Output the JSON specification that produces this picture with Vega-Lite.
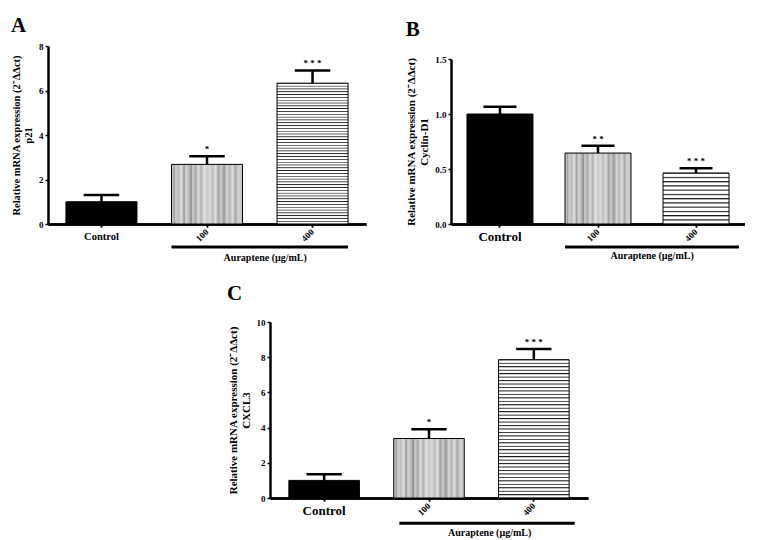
{
  "$schema": "https://vega.github.io/schema/vega-lite/v6.json",
  "background": "white",
  "padding": {"left": 11, "top": 15, "right": 0, "bottom": 0},
  "config": {
    "view": {"stroke": null},
    "font": "Liberation Serif",
    "axis": {"labelFont": "Liberation Serif", "labelFontWeight": "bold", "titleFont": "Liberation Serif", "titleFontWeight": "bold", "domainColor": "#000", "domainWidth": 2.5, "tickColor": "#000", "tickWidth": 1.5, "tickSize": 3, "labelColor": "#000", "titleColor": "#000", "grid": false, "labelOverlap": false},
    "title": {"font": "Liberation Serif", "fontWeight": "bold", "fontSize": 21, "color": "#000", "anchor": "start", "frame": "bounds"},
    "text": {"font": "Liberation Serif", "fontWeight": "bold", "color": "#000"}
  },
  "spacing": 19,
  "vconcat": [
    {
      "spacing": 39,
      "hconcat": [
        {
          "width": 318, "height": 178,
          "title": {"text": "A", "offset": 6},
          "data": {"values": [
            {"g": "Control", "v": 1.0, "e": 1.3, "s": ""},
            {"g": "100", "v": 2.68, "e": 3.04, "s": "*"},
            {"g": "400", "v": 6.33, "e": 6.9, "s": "* * *"}
          ]},
          "resolve": {"axis": {"x": "independent"}},
          "layer": [
            {"mark": {"type": "bar", "stroke": "#000", "strokeWidth": 1},
             "encoding": {
               "x": {"field": "g", "type": "nominal", "scale": {"domain": ["Control", "100", "400"], "paddingInner": 0.327, "paddingOuter": 0.17},
                 "axis": {"title": null, "orient": "bottom", "labelAngle": 0, "labelFontSize": 10.5, "labelPadding": 4, "labelExpr": "datum.value === 'Control' ? datum.label : ''"}},
               "y": {"field": "v", "type": "quantitative", "scale": {"domain": [0, 8], "nice": false},
                 "axis": {"values": [0, 2, 4, 6, 8], "tickCount": 10, "labelOverlap": false, "title": ["Relative mRNA expression (2⁻ΔΔct)", "p21"], "titleFontSize": 10.5, "labelFontSize": 9, "labelPadding": 2, "titlePadding": 5}},
               "fill": {"condition": [
                 {"test": "datum.g === '100'", "value": {"gradient": "linear", "x1": 0, "y1": 0, "x2": 1, "y2": 0, "stops": [
                   {"offset": 0, "color": "#d8d8d8"}, {"offset": 0.04, "color": "#a0a0a0"}, {"offset": 0.06, "color": "#d0d0d0"}, {"offset": 0.1, "color": "#bcbcbc"}, {"offset": 0.14, "color": "#e0e0e0"}, {"offset": 0.18, "color": "#9a9a9a"}, {"offset": 0.2, "color": "#d4d4d4"}, {"offset": 0.24, "color": "#c0c0c0"}, {"offset": 0.28, "color": "#909090"}, {"offset": 0.3, "color": "#d0d0d0"}, {"offset": 0.34, "color": "#a8a8a8"}, {"offset": 0.38, "color": "#dcdcdc"}, {"offset": 0.42, "color": "#b0b0b0"}, {"offset": 0.46, "color": "#e4e4e4"}, {"offset": 0.5, "color": "#c8c8c8"}, {"offset": 0.54, "color": "#dadada"}, {"offset": 0.58, "color": "#bdbdbd"}, {"offset": 0.62, "color": "#e0e0e0"}, {"offset": 0.66, "color": "#a4a4a4"}, {"offset": 0.7, "color": "#cccccc"}, {"offset": 0.74, "color": "#989898"}, {"offset": 0.78, "color": "#d6d6d6"}, {"offset": 0.82, "color": "#b4b4b4"}, {"offset": 0.86, "color": "#dedede"}, {"offset": 0.9, "color": "#a8a8a8"}, {"offset": 0.94, "color": "#d2d2d2"}, {"offset": 1, "color": "#c4c4c4"}]}},
                 {"test": "datum.g === '400'", "value": {"gradient": "linear", "x1": 0, "y1": 0, "x2": 0, "y2": 1, "stops": [
                   {"offset":0,"color":"#1a1a1a"},{"offset":0.007,"color":"#fff"},{"offset":0.016,"color":"#fff"},
                   {"offset":0.02,"color":"#1a1a1a"},{"offset":0.027,"color":"#fff"},{"offset":0.036,"color":"#fff"},
                   {"offset":0.04,"color":"#1a1a1a"},{"offset":0.047,"color":"#fff"},{"offset":0.056,"color":"#fff"},
                   {"offset":0.06,"color":"#1a1a1a"},{"offset":0.067,"color":"#fff"},{"offset":0.076,"color":"#fff"},
                   {"offset":0.08,"color":"#1a1a1a"},{"offset":0.087,"color":"#fff"},{"offset":0.096,"color":"#fff"},
                   {"offset":0.1,"color":"#1a1a1a"},{"offset":0.107,"color":"#fff"},{"offset":0.116,"color":"#fff"},
                   {"offset":0.12,"color":"#1a1a1a"},{"offset":0.127,"color":"#fff"},{"offset":0.136,"color":"#fff"},
                   {"offset":0.14,"color":"#1a1a1a"},{"offset":0.147,"color":"#fff"},{"offset":0.156,"color":"#fff"},
                   {"offset":0.16,"color":"#1a1a1a"},{"offset":0.167,"color":"#fff"},{"offset":0.176,"color":"#fff"},
                   {"offset":0.18,"color":"#1a1a1a"},{"offset":0.187,"color":"#fff"},{"offset":0.196,"color":"#fff"},
                   {"offset":0.2,"color":"#1a1a1a"},{"offset":0.207,"color":"#fff"},{"offset":0.216,"color":"#fff"},
                   {"offset":0.22,"color":"#1a1a1a"},{"offset":0.227,"color":"#fff"},{"offset":0.236,"color":"#fff"},
                   {"offset":0.24,"color":"#1a1a1a"},{"offset":0.247,"color":"#fff"},{"offset":0.256,"color":"#fff"},
                   {"offset":0.26,"color":"#1a1a1a"},{"offset":0.267,"color":"#fff"},{"offset":0.276,"color":"#fff"},
                   {"offset":0.28,"color":"#1a1a1a"},{"offset":0.287,"color":"#fff"},{"offset":0.296,"color":"#fff"},
                   {"offset":0.3,"color":"#1a1a1a"},{"offset":0.307,"color":"#fff"},{"offset":0.316,"color":"#fff"},
                   {"offset":0.32,"color":"#1a1a1a"},{"offset":0.327,"color":"#fff"},{"offset":0.336,"color":"#fff"},
                   {"offset":0.34,"color":"#1a1a1a"},{"offset":0.347,"color":"#fff"},{"offset":0.356,"color":"#fff"},
                   {"offset":0.36,"color":"#1a1a1a"},{"offset":0.367,"color":"#fff"},{"offset":0.376,"color":"#fff"},
                   {"offset":0.38,"color":"#1a1a1a"},{"offset":0.387,"color":"#fff"},{"offset":0.396,"color":"#fff"},
                   {"offset":0.4,"color":"#1a1a1a"},{"offset":0.407,"color":"#fff"},{"offset":0.416,"color":"#fff"},
                   {"offset":0.42,"color":"#1a1a1a"},{"offset":0.427,"color":"#fff"},{"offset":0.436,"color":"#fff"},
                   {"offset":0.44,"color":"#1a1a1a"},{"offset":0.447,"color":"#fff"},{"offset":0.456,"color":"#fff"},
                   {"offset":0.46,"color":"#1a1a1a"},{"offset":0.467,"color":"#fff"},{"offset":0.476,"color":"#fff"},
                   {"offset":0.48,"color":"#1a1a1a"},{"offset":0.487,"color":"#fff"},{"offset":0.496,"color":"#fff"},
                   {"offset":0.5,"color":"#1a1a1a"},{"offset":0.507,"color":"#fff"},{"offset":0.516,"color":"#fff"},
                   {"offset":0.52,"color":"#1a1a1a"},{"offset":0.527,"color":"#fff"},{"offset":0.536,"color":"#fff"},
                   {"offset":0.54,"color":"#1a1a1a"},{"offset":0.547,"color":"#fff"},{"offset":0.556,"color":"#fff"},
                   {"offset":0.56,"color":"#1a1a1a"},{"offset":0.567,"color":"#fff"},{"offset":0.576,"color":"#fff"},
                   {"offset":0.58,"color":"#1a1a1a"},{"offset":0.587,"color":"#fff"},{"offset":0.596,"color":"#fff"},
                   {"offset":0.6,"color":"#1a1a1a"},{"offset":0.607,"color":"#fff"},{"offset":0.616,"color":"#fff"},
                   {"offset":0.62,"color":"#1a1a1a"},{"offset":0.627,"color":"#fff"},{"offset":0.636,"color":"#fff"},
                   {"offset":0.64,"color":"#1a1a1a"},{"offset":0.647,"color":"#fff"},{"offset":0.656,"color":"#fff"},
                   {"offset":0.66,"color":"#1a1a1a"},{"offset":0.667,"color":"#fff"},{"offset":0.676,"color":"#fff"},
                   {"offset":0.68,"color":"#1a1a1a"},{"offset":0.687,"color":"#fff"},{"offset":0.696,"color":"#fff"},
                   {"offset":0.7,"color":"#1a1a1a"},{"offset":0.707,"color":"#fff"},{"offset":0.716,"color":"#fff"},
                   {"offset":0.72,"color":"#1a1a1a"},{"offset":0.727,"color":"#fff"},{"offset":0.736,"color":"#fff"},
                   {"offset":0.74,"color":"#1a1a1a"},{"offset":0.747,"color":"#fff"},{"offset":0.756,"color":"#fff"},
                   {"offset":0.76,"color":"#1a1a1a"},{"offset":0.767,"color":"#fff"},{"offset":0.776,"color":"#fff"},
                   {"offset":0.78,"color":"#1a1a1a"},{"offset":0.787,"color":"#fff"},{"offset":0.796,"color":"#fff"},
                   {"offset":0.8,"color":"#1a1a1a"},{"offset":0.807,"color":"#fff"},{"offset":0.816,"color":"#fff"},
                   {"offset":0.82,"color":"#1a1a1a"},{"offset":0.827,"color":"#fff"},{"offset":0.836,"color":"#fff"},
                   {"offset":0.84,"color":"#1a1a1a"},{"offset":0.847,"color":"#fff"},{"offset":0.856,"color":"#fff"},
                   {"offset":0.86,"color":"#1a1a1a"},{"offset":0.867,"color":"#fff"},{"offset":0.876,"color":"#fff"},
                   {"offset":0.88,"color":"#1a1a1a"},{"offset":0.887,"color":"#fff"},{"offset":0.896,"color":"#fff"},
                   {"offset":0.9,"color":"#1a1a1a"},{"offset":0.907,"color":"#fff"},{"offset":0.916,"color":"#fff"},
                   {"offset":0.92,"color":"#1a1a1a"},{"offset":0.927,"color":"#fff"},{"offset":0.936,"color":"#fff"},
                   {"offset":0.94,"color":"#1a1a1a"},{"offset":0.947,"color":"#fff"},{"offset":0.956,"color":"#fff"},
                   {"offset":0.96,"color":"#1a1a1a"},{"offset":0.967,"color":"#fff"},{"offset":0.976,"color":"#fff"},
                   {"offset":0.98,"color":"#1a1a1a"},{"offset":0.987,"color":"#fff"},{"offset":0.996,"color":"#fff"},
                   {"offset":1,"color":"#1a1a1a"}]}}],
                 "value": "#000"}}},
            {"mark": {"type": "rule", "strokeWidth": 2.5, "color": "#000"},
             "encoding": {
               "x": {"field": "g", "type": "nominal", "axis": {"title": null, "orient": "bottom", "labelAngle": -45, "labelAlign": "right", "labelBaseline": "middle", "labelFontSize": 9, "labelPadding": 3, "labelExpr": "datum.value === 'Control' ? '' : datum.label"}},
               "y": {"field": "v", "type": "quantitative"}, "y2": {"field": "e"}}},
            {"mark": {"type": "rule", "strokeWidth": 2.5, "color": "#000"},
             "encoding": {"x": {"field": "g", "type": "nominal", "bandPosition": 0.25, "axis": null}, "x2": {"field": "g", "bandPosition": 0.75}, "y": {"field": "e", "type": "quantitative"}}},
            {"mark": {"type": "text", "dy": -7, "fontSize": 9},
             "encoding": {"x": {"field": "g", "type": "nominal", "axis": null}, "y": {"field": "e", "type": "quantitative"}, "text": {"field": "s"}}},
            {"data": {"values": [{"a": "100", "b": "400", "ly": -1.03, "ty": -1.53, "t": "Auraptene (µg/mL)"}]},
             "layer": [
               {"mark": {"type": "rule", "strokeWidth": 3, "color": "#000"},
                "encoding": {"x": {"field": "a", "type": "nominal", "bandPosition": 0, "axis": null}, "x2": {"field": "b", "bandPosition": 1}, "y": {"field": "ly", "type": "quantitative"}}},
               {"mark": {"type": "text", "fontSize": 10},
                "encoding": {"x": {"field": "a", "type": "nominal", "bandPosition": 1.32, "axis": null}, "y": {"field": "ty", "type": "quantitative"}, "text": {"field": "t"}}}
             ]}
          ]
        },
        {
          "width": 294, "height": 178,
          "title": {"text": "B", "offset": 6},
          "data": {"values": [
            {"g": "Control", "v": 1.0, "e": 1.066, "s": ""},
            {"g": "100", "v": 0.645, "e": 0.712, "s": "* *"},
            {"g": "400", "v": 0.464, "e": 0.506, "s": "* * *"}
          ]},
          "resolve": {"axis": {"x": "independent"}},
          "layer": [
            {"mark": {"type": "bar", "stroke": "#000", "strokeWidth": 1},
             "encoding": {
               "x": {"field": "g", "type": "nominal", "scale": {"domain": ["Control", "100", "400"], "paddingInner": 0.327, "paddingOuter": 0.163},
                 "axis": {"title": null, "orient": "bottom", "labelAngle": 0, "labelFontSize": 13, "labelPadding": 3, "labelExpr": "datum.value === 'Control' ? datum.label : ''"}},
               "y": {"field": "v", "type": "quantitative", "scale": {"domain": [0, 1.5], "nice": false, "range": [178, 13]},
                 "axis": {"values": [0, 0.5, 1, 1.5], "tickCount": 10, "labelOverlap": false, "format": ".1f", "title": ["Relative mRNA expression (2⁻ΔΔct)", "Cyclin-D1"], "titleFontSize": 11, "labelFontSize": 9, "labelPadding": 2, "titlePadding": 5}},
               "fill": {"condition": [
                 {"test": "datum.g === '100'", "value": {"gradient": "linear", "x1": 0, "y1": 0, "x2": 1, "y2": 0, "stops": [
                   {"offset": 0, "color": "#d8d8d8"}, {"offset": 0.04, "color": "#a0a0a0"}, {"offset": 0.06, "color": "#d0d0d0"}, {"offset": 0.1, "color": "#bcbcbc"}, {"offset": 0.14, "color": "#e0e0e0"}, {"offset": 0.18, "color": "#9a9a9a"}, {"offset": 0.2, "color": "#d4d4d4"}, {"offset": 0.24, "color": "#c0c0c0"}, {"offset": 0.28, "color": "#909090"}, {"offset": 0.3, "color": "#d0d0d0"}, {"offset": 0.34, "color": "#a8a8a8"}, {"offset": 0.38, "color": "#dcdcdc"}, {"offset": 0.42, "color": "#b0b0b0"}, {"offset": 0.46, "color": "#e4e4e4"}, {"offset": 0.5, "color": "#c8c8c8"}, {"offset": 0.54, "color": "#dadada"}, {"offset": 0.58, "color": "#bdbdbd"}, {"offset": 0.62, "color": "#e0e0e0"}, {"offset": 0.66, "color": "#a4a4a4"}, {"offset": 0.7, "color": "#cccccc"}, {"offset": 0.74, "color": "#989898"}, {"offset": 0.78, "color": "#d6d6d6"}, {"offset": 0.82, "color": "#b4b4b4"}, {"offset": 0.86, "color": "#dedede"}, {"offset": 0.9, "color": "#a8a8a8"}, {"offset": 0.94, "color": "#d2d2d2"}, {"offset": 1, "color": "#c4c4c4"}]}},
                 {"test": "datum.g === '400'", "value": {"gradient": "linear", "x1": 0, "y1": 0, "x2": 0, "y2": 1, "stops": [
                   {"offset":0,"color":"#1a1a1a"},{"offset":0.03,"color":"#fff"},{"offset":0.068,"color":"#fff"},
                   {"offset":0.0833,"color":"#1a1a1a"},{"offset":0.1133,"color":"#fff"},{"offset":0.1513,"color":"#fff"},
                   {"offset":0.1667,"color":"#1a1a1a"},{"offset":0.1967,"color":"#fff"},{"offset":0.2347,"color":"#fff"},
                   {"offset":0.25,"color":"#1a1a1a"},{"offset":0.28,"color":"#fff"},{"offset":0.318,"color":"#fff"},
                   {"offset":0.3333,"color":"#1a1a1a"},{"offset":0.3633,"color":"#fff"},{"offset":0.4013,"color":"#fff"},
                   {"offset":0.4167,"color":"#1a1a1a"},{"offset":0.4467,"color":"#fff"},{"offset":0.4847,"color":"#fff"},
                   {"offset":0.5,"color":"#1a1a1a"},{"offset":0.53,"color":"#fff"},{"offset":0.568,"color":"#fff"},
                   {"offset":0.5833,"color":"#1a1a1a"},{"offset":0.6133,"color":"#fff"},{"offset":0.6513,"color":"#fff"},
                   {"offset":0.6667,"color":"#1a1a1a"},{"offset":0.6967,"color":"#fff"},{"offset":0.7347,"color":"#fff"},
                   {"offset":0.75,"color":"#1a1a1a"},{"offset":0.78,"color":"#fff"},{"offset":0.818,"color":"#fff"},
                   {"offset":0.8333,"color":"#1a1a1a"},{"offset":0.8633,"color":"#fff"},{"offset":0.9013,"color":"#fff"},
                   {"offset":0.9167,"color":"#1a1a1a"},{"offset":0.9467,"color":"#fff"},{"offset":0.9847,"color":"#fff"},
                   {"offset":1,"color":"#1a1a1a"}]}}],
                 "value": "#000"}}},
            {"mark": {"type": "rule", "strokeWidth": 2.5, "color": "#000"},
             "encoding": {
               "x": {"field": "g", "type": "nominal", "axis": {"title": null, "orient": "bottom", "labelAngle": -45, "labelAlign": "right", "labelBaseline": "middle", "labelFontSize": 9, "labelPadding": 3, "labelExpr": "datum.value === 'Control' ? '' : datum.label"}},
               "y": {"field": "v", "type": "quantitative"}, "y2": {"field": "e"}}},
            {"mark": {"type": "rule", "strokeWidth": 2.5, "color": "#000"},
             "encoding": {"x": {"field": "g", "type": "nominal", "bandPosition": 0.25, "axis": null}, "x2": {"field": "g", "bandPosition": 0.75}, "y": {"field": "e", "type": "quantitative"}}},
            {"mark": {"type": "text", "dy": -7, "fontSize": 9},
             "encoding": {"x": {"field": "g", "type": "nominal", "axis": null}, "y": {"field": "e", "type": "quantitative"}, "text": {"field": "s"}}},
            {"data": {"values": [{"a": "100", "b": "400", "ly": -0.209, "ty": -0.288, "t": "Auraptene (µg/mL)"}]},
             "layer": [
               {"mark": {"type": "rule", "strokeWidth": 3, "color": "#000"},
                "encoding": {"x": {"field": "a", "type": "nominal", "bandPosition": 0, "axis": null}, "x2": {"field": "b", "bandPosition": 1.15}, "y": {"field": "ly", "type": "quantitative"}}},
               {"mark": {"type": "text", "fontSize": 10},
                "encoding": {"x": {"field": "a", "type": "nominal", "bandPosition": 1.32, "axis": null}, "y": {"field": "ty", "type": "quantitative"}, "text": {"field": "t"}}}
             ]}
          ]
        }
      ]
    },
    {
      "spacing": 0,
      "hconcat": [
        {"width": 179, "height": 10, "data": {"values": [{}]}, "mark": {"type": "text"}, "encoding": {"text": {"value": ""}}},
        {
          "width": 318, "height": 176,
          "title": {"text": "C", "offset": 14},
          "data": {"values": [
            {"g": "Control", "v": 1.0, "e": 1.35, "s": ""},
            {"g": "100", "v": 3.38, "e": 3.9, "s": "*"},
            {"g": "400", "v": 7.86, "e": 8.46, "s": "* * *"}
          ]},
          "resolve": {"axis": {"x": "independent"}},
          "layer": [
            {"mark": {"type": "bar", "stroke": "#000", "strokeWidth": 1},
             "encoding": {
               "x": {"field": "g", "type": "nominal", "scale": {"domain": ["Control", "100", "400"], "paddingInner": 0.327, "paddingOuter": 0.18},
                 "axis": {"title": null, "orient": "bottom", "labelAngle": 0, "labelFontSize": 13, "labelPadding": 3, "labelExpr": "datum.value === 'Control' ? datum.label : ''"}},
               "y": {"field": "v", "type": "quantitative", "scale": {"domain": [0, 10], "nice": false},
                 "axis": {"values": [0, 2, 4, 6, 8, 10], "tickCount": 10, "labelOverlap": false, "title": ["Relative mRNA expression (2⁻ΔΔct)", "CXCL3"], "titleFontSize": 11, "labelFontSize": 9, "labelPadding": 2, "titlePadding": 5}},
               "fill": {"condition": [
                 {"test": "datum.g === '100'", "value": {"gradient": "linear", "x1": 0, "y1": 0, "x2": 1, "y2": 0, "stops": [
                   {"offset": 0, "color": "#d8d8d8"}, {"offset": 0.04, "color": "#a0a0a0"}, {"offset": 0.06, "color": "#d0d0d0"}, {"offset": 0.1, "color": "#bcbcbc"}, {"offset": 0.14, "color": "#e0e0e0"}, {"offset": 0.18, "color": "#9a9a9a"}, {"offset": 0.2, "color": "#d4d4d4"}, {"offset": 0.24, "color": "#c0c0c0"}, {"offset": 0.28, "color": "#909090"}, {"offset": 0.3, "color": "#d0d0d0"}, {"offset": 0.34, "color": "#a8a8a8"}, {"offset": 0.38, "color": "#dcdcdc"}, {"offset": 0.42, "color": "#b0b0b0"}, {"offset": 0.46, "color": "#e4e4e4"}, {"offset": 0.5, "color": "#c8c8c8"}, {"offset": 0.54, "color": "#dadada"}, {"offset": 0.58, "color": "#bdbdbd"}, {"offset": 0.62, "color": "#e0e0e0"}, {"offset": 0.66, "color": "#a4a4a4"}, {"offset": 0.7, "color": "#cccccc"}, {"offset": 0.74, "color": "#989898"}, {"offset": 0.78, "color": "#d6d6d6"}, {"offset": 0.82, "color": "#b4b4b4"}, {"offset": 0.86, "color": "#dedede"}, {"offset": 0.9, "color": "#a8a8a8"}, {"offset": 0.94, "color": "#d2d2d2"}, {"offset": 1, "color": "#c4c4c4"}]}},
                 {"test": "datum.g === '400'", "value": {"gradient": "linear", "x1": 0, "y1": 0, "x2": 0, "y2": 1, "stops": [
                   {"offset":0,"color":"#1a1a1a"},{"offset":0.009,"color":"#fff"},{"offset":0.02,"color":"#fff"},
                   {"offset":0.025,"color":"#1a1a1a"},{"offset":0.034,"color":"#fff"},{"offset":0.045,"color":"#fff"},
                   {"offset":0.05,"color":"#1a1a1a"},{"offset":0.059,"color":"#fff"},{"offset":0.07,"color":"#fff"},
                   {"offset":0.075,"color":"#1a1a1a"},{"offset":0.084,"color":"#fff"},{"offset":0.095,"color":"#fff"},
                   {"offset":0.1,"color":"#1a1a1a"},{"offset":0.109,"color":"#fff"},{"offset":0.12,"color":"#fff"},
                   {"offset":0.125,"color":"#1a1a1a"},{"offset":0.134,"color":"#fff"},{"offset":0.145,"color":"#fff"},
                   {"offset":0.15,"color":"#1a1a1a"},{"offset":0.159,"color":"#fff"},{"offset":0.17,"color":"#fff"},
                   {"offset":0.175,"color":"#1a1a1a"},{"offset":0.184,"color":"#fff"},{"offset":0.195,"color":"#fff"},
                   {"offset":0.2,"color":"#1a1a1a"},{"offset":0.209,"color":"#fff"},{"offset":0.22,"color":"#fff"},
                   {"offset":0.225,"color":"#1a1a1a"},{"offset":0.234,"color":"#fff"},{"offset":0.245,"color":"#fff"},
                   {"offset":0.25,"color":"#1a1a1a"},{"offset":0.259,"color":"#fff"},{"offset":0.27,"color":"#fff"},
                   {"offset":0.275,"color":"#1a1a1a"},{"offset":0.284,"color":"#fff"},{"offset":0.295,"color":"#fff"},
                   {"offset":0.3,"color":"#1a1a1a"},{"offset":0.309,"color":"#fff"},{"offset":0.32,"color":"#fff"},
                   {"offset":0.325,"color":"#1a1a1a"},{"offset":0.334,"color":"#fff"},{"offset":0.345,"color":"#fff"},
                   {"offset":0.35,"color":"#1a1a1a"},{"offset":0.359,"color":"#fff"},{"offset":0.37,"color":"#fff"},
                   {"offset":0.375,"color":"#1a1a1a"},{"offset":0.384,"color":"#fff"},{"offset":0.395,"color":"#fff"},
                   {"offset":0.4,"color":"#1a1a1a"},{"offset":0.409,"color":"#fff"},{"offset":0.42,"color":"#fff"},
                   {"offset":0.425,"color":"#1a1a1a"},{"offset":0.434,"color":"#fff"},{"offset":0.445,"color":"#fff"},
                   {"offset":0.45,"color":"#1a1a1a"},{"offset":0.459,"color":"#fff"},{"offset":0.47,"color":"#fff"},
                   {"offset":0.475,"color":"#1a1a1a"},{"offset":0.484,"color":"#fff"},{"offset":0.495,"color":"#fff"},
                   {"offset":0.5,"color":"#1a1a1a"},{"offset":0.509,"color":"#fff"},{"offset":0.52,"color":"#fff"},
                   {"offset":0.525,"color":"#1a1a1a"},{"offset":0.534,"color":"#fff"},{"offset":0.545,"color":"#fff"},
                   {"offset":0.55,"color":"#1a1a1a"},{"offset":0.559,"color":"#fff"},{"offset":0.57,"color":"#fff"},
                   {"offset":0.575,"color":"#1a1a1a"},{"offset":0.584,"color":"#fff"},{"offset":0.595,"color":"#fff"},
                   {"offset":0.6,"color":"#1a1a1a"},{"offset":0.609,"color":"#fff"},{"offset":0.62,"color":"#fff"},
                   {"offset":0.625,"color":"#1a1a1a"},{"offset":0.634,"color":"#fff"},{"offset":0.645,"color":"#fff"},
                   {"offset":0.65,"color":"#1a1a1a"},{"offset":0.659,"color":"#fff"},{"offset":0.67,"color":"#fff"},
                   {"offset":0.675,"color":"#1a1a1a"},{"offset":0.684,"color":"#fff"},{"offset":0.695,"color":"#fff"},
                   {"offset":0.7,"color":"#1a1a1a"},{"offset":0.709,"color":"#fff"},{"offset":0.72,"color":"#fff"},
                   {"offset":0.725,"color":"#1a1a1a"},{"offset":0.734,"color":"#fff"},{"offset":0.745,"color":"#fff"},
                   {"offset":0.75,"color":"#1a1a1a"},{"offset":0.759,"color":"#fff"},{"offset":0.77,"color":"#fff"},
                   {"offset":0.775,"color":"#1a1a1a"},{"offset":0.784,"color":"#fff"},{"offset":0.795,"color":"#fff"},
                   {"offset":0.8,"color":"#1a1a1a"},{"offset":0.809,"color":"#fff"},{"offset":0.82,"color":"#fff"},
                   {"offset":0.825,"color":"#1a1a1a"},{"offset":0.834,"color":"#fff"},{"offset":0.845,"color":"#fff"},
                   {"offset":0.85,"color":"#1a1a1a"},{"offset":0.859,"color":"#fff"},{"offset":0.87,"color":"#fff"},
                   {"offset":0.875,"color":"#1a1a1a"},{"offset":0.884,"color":"#fff"},{"offset":0.895,"color":"#fff"},
                   {"offset":0.9,"color":"#1a1a1a"},{"offset":0.909,"color":"#fff"},{"offset":0.92,"color":"#fff"},
                   {"offset":0.925,"color":"#1a1a1a"},{"offset":0.934,"color":"#fff"},{"offset":0.945,"color":"#fff"},
                   {"offset":0.95,"color":"#1a1a1a"},{"offset":0.959,"color":"#fff"},{"offset":0.97,"color":"#fff"},
                   {"offset":0.975,"color":"#1a1a1a"},{"offset":0.984,"color":"#fff"},{"offset":0.995,"color":"#fff"},
                   {"offset":1,"color":"#1a1a1a"}]}}],
                 "value": "#000"}}},
            {"mark": {"type": "rule", "strokeWidth": 2.5, "color": "#000"},
             "encoding": {
               "x": {"field": "g", "type": "nominal", "axis": {"title": null, "orient": "bottom", "labelAngle": -45, "labelAlign": "right", "labelBaseline": "middle", "labelFontSize": 9, "labelPadding": 3, "labelExpr": "datum.value === 'Control' ? '' : datum.label"}},
               "y": {"field": "v", "type": "quantitative"}, "y2": {"field": "e"}}},
            {"mark": {"type": "rule", "strokeWidth": 2.5, "color": "#000"},
             "encoding": {"x": {"field": "g", "type": "nominal", "bandPosition": 0.25, "axis": null}, "x2": {"field": "g", "bandPosition": 0.75}, "y": {"field": "e", "type": "quantitative"}}},
            {"mark": {"type": "text", "dy": -7, "fontSize": 9},
             "encoding": {"x": {"field": "g", "type": "nominal", "axis": null}, "y": {"field": "e", "type": "quantitative"}, "text": {"field": "s"}}},
            {"data": {"values": [{"a": "100", "b": "400", "ly": -1.44, "ty": -1.99, "t": "Auraptene (µg/mL)"}]},
             "layer": [
               {"mark": {"type": "rule", "strokeWidth": 3, "color": "#000"},
                "encoding": {"x": {"field": "a", "type": "nominal", "bandPosition": 0.08, "axis": null}, "x2": {"field": "b", "bandPosition": 1.08}, "y": {"field": "ly", "type": "quantitative"}}},
               {"mark": {"type": "text", "fontSize": 10},
                "encoding": {"x": {"field": "a", "type": "nominal", "bandPosition": 1.36, "axis": null}, "y": {"field": "ty", "type": "quantitative"}, "text": {"field": "t"}}}
             ]}
          ]
        }
      ]
    }
  ]
}
